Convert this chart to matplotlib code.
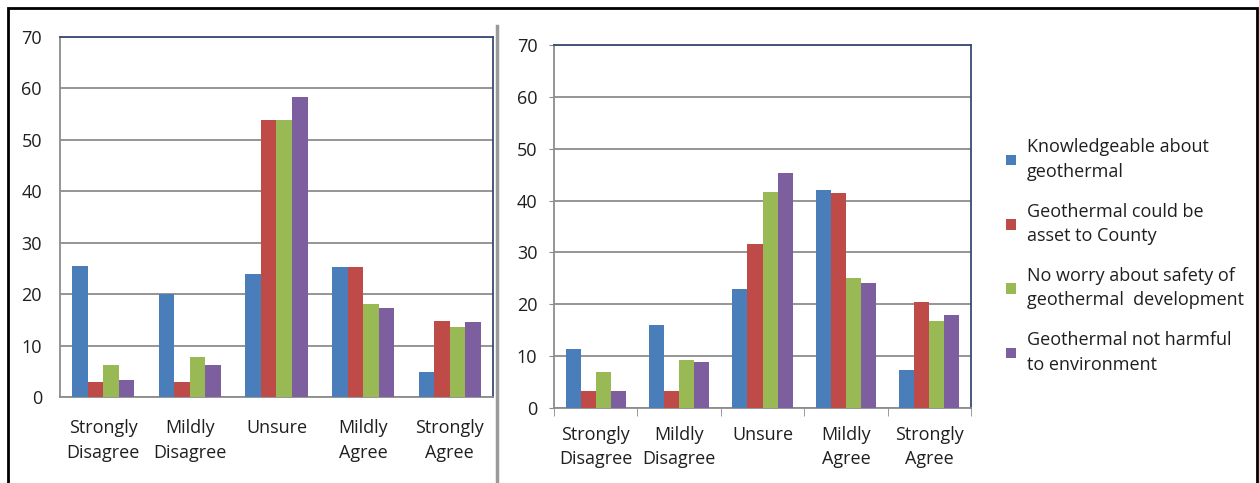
import numpy as np
import matplotlib.pyplot as plt
from matplotlib.lines import Line2D
from matplotlib.patches import Rectangle, Patch

plt.rcParams['font.family'] = ['Open Sans', 'DejaVu Sans']

categories = ["Strongly\nDisagree", "Mildly\nDisagree", "Unsure", "Mildly\nAgree", "Strongly\nAgree"]
series_names = [
    "Knowledgeable about\ngeothermal",
    "Geothermal could be\nasset to County",
    "No worry about safety of\ngeothermal  development",
    "Geothermal not harmful\nto environment",
]
colors = ["#4A7EBB", "#BE4B48", "#98B954", "#7D5FA0"]

# left survey
left_knowledge = [25.5, 20.1, 24.0, 25.2, 4.8]
left_asset = [2.9, 2.9, 53.9, 25.2, 14.8]
left_safety = [6.2, 7.8, 53.9, 18.0, 13.6]
left_env = [3.3, 6.2, 58.3, 17.4, 14.5]

# right survey
right_knowledge = [11.4, 16.0, 22.9, 42.0, 7.3]
right_asset = [3.2, 3.2, 31.7, 41.4, 20.4]
right_safety = [7.0, 9.2, 41.7, 25.1, 16.7]
right_env = [3.2, 8.9, 45.4, 24.2, 18.0]

W, H = 1259, 483
fig = plt.figure(figsize=(W / 100, H / 100), dpi=100)
TEXT = "#1f1f1f"
FS = 13


def px_axes(x0, y0, x1, y1):
    return fig.add_axes([x0 / W, 1 - y1 / H, (x1 - x0) / W, (y1 - y0) / H])


def draw_panel(ax, data, ticks):
    x = np.arange(len(categories))
    bw = 0.18
    for i, vals in enumerate(data):
        ax.bar(x + (i - 1.5) * bw, vals, width=bw, color=colors[i], zorder=3)
    ax.set_xlim(-0.5, len(categories) - 0.5)
    ax.set_ylim(0, 70)
    ax.set_yticks(range(0, 71, 10))
    ax.yaxis.grid(True, color="#8c8c8c", linewidth=1.3, zorder=0)
    ax.set_xticks(x)
    ax.set_xticklabels(categories, fontsize=FS, color=TEXT, linespacing=1.45)
    for lbl in ax.get_yticklabels():
        lbl.set_fontsize(FS)
        lbl.set_color(TEXT)
    for s in ("top", "right"):
        ax.spines[s].set_color("#3c4a74")
        ax.spines[s].set_linewidth(1.3)
    for s in ("left", "bottom"):
        ax.spines[s].set_color("#8c8c8c")
        ax.spines[s].set_linewidth(1.3)
    if ticks:
        ax.tick_params(axis="y", length=3.5, color="#8c8c8c", pad=8.5)
        ax.set_xticks(np.arange(-0.5, len(categories)), minor=True)
        ax.tick_params(axis="x", which="major", length=0, pad=13)
        ax.tick_params(axis="x", which="minor", length=6, color="#8c8c8c")
    else:
        ax.tick_params(axis="y", length=0, pad=13)
        ax.tick_params(axis="x", length=0, pad=16)


ax1 = px_axes(60, 37, 493, 397)
draw_panel(ax1, [left_knowledge, left_asset, left_safety, left_env], ticks=False)

ax2 = px_axes(554, 45, 971, 408)
draw_panel(ax2, [right_knowledge, right_asset, right_safety, right_env], ticks=True)

handles = [Patch(facecolor=c) for c in colors]
leg = fig.legend(handles, series_names, loc="upper left", bbox_to_anchor=(990 / W, 1 - 122 / H),
                 frameon=False, fontsize=FS, handlelength=0.55, handleheight=0.55,
                 handletextpad=0.6, labelspacing=1.22, labelcolor=TEXT)
for t in leg.get_texts():
    t.set_linespacing(1.45)

# outer frame and panel divider
fig.add_artist(Rectangle((8 / W, -0.05), (1257 - 8) / W, 1.05 - 8 / H, transform=fig.transFigure,
                         fill=False, edgecolor="black", linewidth=2))
fig.add_artist(Line2D([497 / W, 497 / W], [0, 1 - 26 / H], transform=fig.transFigure,
                      color="#9a9a9a", linewidth=2.5))

fig.savefig("out.png", dpi=100)
